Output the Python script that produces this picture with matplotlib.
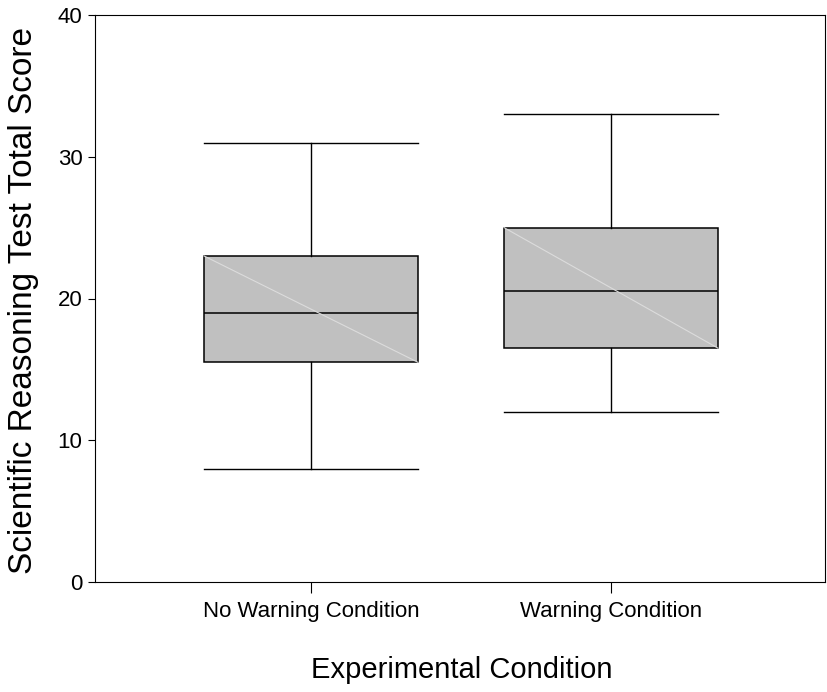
import matplotlib
matplotlib.use("Agg")
import matplotlib.pyplot as plt

plt.rcParams['font.family'] = ['Liberation Sans', 'DejaVu Sans']

# data
conditions = ["No Warning Condition", "Warning Condition"]
whislo = [8, 12]
q1 = [15.5, 16.5]
med = [19, 20.5]
q3 = [23, 25]
whishi = [31, 33]

stats = []
for i in range(len(conditions)):
    stats.append(dict(label=conditions[i], whislo=whislo[i], q1=q1[i],
                      med=med[i], q3=q3[i], whishi=whishi[i], fliers=[]))

fig = plt.figure(figsize=(8.27, 6.92), dpi=100)
ax = fig.add_axes([95 / 827, 1 - 582 / 692, 730 / 827, 567 / 692])

pos = [1, 2]
w = 0.713
ax.bxp(stats, positions=pos, widths=w, patch_artist=True, showfliers=False,
       boxprops=dict(facecolor="#c0c0c0", edgecolor="black", linewidth=1.1),
       medianprops=dict(color="black", linewidth=1.1),
       whiskerprops=dict(color="black", linewidth=1),
       capprops=dict(color="black", linewidth=1),
       capwidths=w)

# faint diagonal across each box (SPSS rendering artifact)
for p, lo, hi in zip(pos, q1, q3):
    ax.plot([p - w / 2, p + w / 2], [hi, lo], color="#dcdcdc", lw=0.8, zorder=3)

ax.set_xlim(1 - 216 / 300, 2 + 214 / 300)
ax.set_ylim(0, 40)
ax.set_yticks([0, 10, 20, 30, 40])
ax.set_xticks(pos)
ax.set_xticklabels(conditions)
ax.tick_params(axis='both', labelsize=16, length=5, width=0.8, direction='out', pad=4)
ax.tick_params(axis='x', length=8, pad=6)
for s in ax.spines.values():
    s.set_linewidth(0.8)

ax.set_ylabel("Scientific Reasoning Test Total Score", fontsize=24)
ax.set_xlabel("Experimental Condition", fontsize=21)
ax.yaxis.set_label_coords((39 - 95) / 730, 0.497)
ax.xaxis.set_label_coords(0.502, (582 - 656) / 567)

fig.savefig("out.png", dpi=100)
